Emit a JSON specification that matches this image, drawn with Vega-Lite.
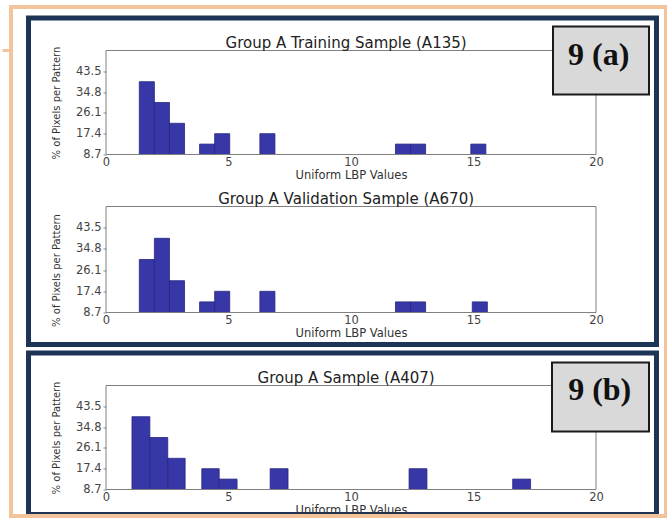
{
  "$schema": "https://vega.github.io/schema/vega-lite/v6.json",
  "background": "white",
  "padding": {"left": 0, "top": 4.5, "right": 0, "bottom": 0},
  "config": {
    "font": "DejaVu Sans",
    "view": {"stroke": null},
    "axis": {"labelFont": "DejaVu Sans", "titleFont": "DejaVu Sans", "labelColor": "#444444", "titleColor": "#333333", "titleFontWeight": "normal", "grid": false, "domain": false, "labelFlush": false, "labelOverlap": false},
    "axisX": {"ticks": false, "labelPadding": 2, "labelFontSize": 11.5, "titleFontSize": 11.5, "titlePadding": 1.5, "tickCount": 10},
    "axisY": {"ticks": true, "tickSize": 3, "tickColor": "#888888", "labelPadding": 2, "labelFontSize": 11.5, "titleFontSize": 10, "titlePadding": 14, "format": ".1f", "tickCount": 10}
  },
  "datasets": {
    "a135": [
      {"x0": 1.36, "x1": 1.975, "pct": 39.15},
      {"x0": 1.975, "x1": 2.59, "pct": 30.45},
      {"x0": 2.59, "x1": 3.205, "pct": 21.75},
      {"x0": 3.82, "x1": 4.435, "pct": 13.05},
      {"x0": 4.435, "x1": 5.05, "pct": 17.4},
      {"x0": 6.28, "x1": 6.895, "pct": 17.4},
      {"x0": 11.815, "x1": 12.43, "pct": 13.05},
      {"x0": 12.43, "x1": 13.045, "pct": 13.05},
      {"x0": 14.89, "x1": 15.505, "pct": 13.05}
    ],
    "a670": [
      {"x0": 1.36, "x1": 1.975, "pct": 30.45},
      {"x0": 1.975, "x1": 2.59, "pct": 39.15},
      {"x0": 2.59, "x1": 3.205, "pct": 21.75},
      {"x0": 3.82, "x1": 4.435, "pct": 13.05},
      {"x0": 4.435, "x1": 5.05, "pct": 17.4},
      {"x0": 6.28, "x1": 6.895, "pct": 17.4},
      {"x0": 11.815, "x1": 12.43, "pct": 13.05},
      {"x0": 12.43, "x1": 13.045, "pct": 13.05},
      {"x0": 14.95, "x1": 15.565, "pct": 13.05}
    ],
    "a407": [
      {"x0": 1.06, "x1": 1.79, "pct": 39.15},
      {"x0": 1.79, "x1": 2.52, "pct": 30.45},
      {"x0": 2.52, "x1": 3.23, "pct": 21.75},
      {"x0": 3.91, "x1": 4.62, "pct": 17.4},
      {"x0": 4.62, "x1": 5.35, "pct": 13.05},
      {"x0": 6.7, "x1": 7.43, "pct": 17.4},
      {"x0": 12.37, "x1": 13.1, "pct": 17.4},
      {"x0": 16.6, "x1": 17.33, "pct": 13.05}
    ]
  },
  "bounds": "flush",
  "spacing": 52,
  "vconcat": [
    {
      "width": 490,
      "height": 104,
      "layer": [
        {
          "data": {"name": "a135"},
          "mark": {"type": "rect", "color": "#3737A8", "stroke": "#26267F", "strokeWidth": 0.8},
          "encoding": {
            "x": {"field": "x0", "type": "quantitative", "scale": {"domain": [0, 20], "nice": false, "zero": false}, "axis": {"values": [0, 5, 10, 15, 20], "title": "Uniform LBP Values", "tickCount": 10}},
            "x2": {"field": "x1"},
            "y": {"field": "pct", "type": "quantitative", "scale": {"domain": [8.7, 52.2], "nice": false, "zero": false}, "axis": {"values": [8.7, 17.4, 26.1, 34.8, 43.5], "title": "% of Pixels per Pattern", "tickCount": 10}},
            "y2": {"datum": 8.7}
          }
        },
        {
          "data": {"values": [{}]},
          "mark": {"type": "rect", "filled": false, "stroke": "#1E3456", "strokeWidth": 5},
          "encoding": {
            "x": {"datum": -3.163, "type": "quantitative"},
            "x2": {"datum": 22.469},
            "y": {"datum": 65.79, "type": "quantitative"},
            "y2": {"datum": -70.77}
          }
        },
        {
          "data": {"values": [{}]},
          "mark": {"type": "rect", "filled": false, "stroke": "#1E3456", "strokeWidth": 5},
          "encoding": {
            "x": {"datum": -3.163, "type": "quantitative"},
            "x2": {"datum": 22.469},
            "y": {"datum": -74.33, "type": "quantitative"},
            "y2": {"datum": -141.88}
          }
        },
        {
          "data": {"values": [{}]},
          "mark": {"type": "rect", "filled": false, "stroke": "#F3C39B", "strokeWidth": 4},
          "encoding": {
            "x": {"datum": -3.878, "type": "quantitative"},
            "x2": {"datum": 22.857},
            "y": {"datum": 70.39, "type": "quantitative"},
            "y2": {"datum": -142.5}
          }
        },
        {
          "data": {"values": [{}]},
          "mark": {"type": "rule", "stroke": "#F3C39B", "strokeWidth": 3},
          "encoding": {
            "x": {"datum": -4.2245, "type": "quantitative"},
            "x2": {"datum": -3.878},
            "y": {"datum": 52.2, "type": "quantitative"}
          }
        },
        {
          "data": {"values": [{}]},
          "mark": {"type": "rect", "filled": false, "stroke": "#808080", "strokeWidth": 1},
          "encoding": {
            "x": {"datum": 0, "type": "quantitative"},
            "x2": {"datum": 20},
            "y": {"datum": 8.7, "type": "quantitative"},
            "y2": {"datum": 52.2}
          }
        },
        {
          "data": {"values": [{"t": "Group A Training Sample (A135)"}]},
          "mark": {"type": "text", "fontSize": 15, "color": "#222222", "align": "center", "baseline": "alphabetic", "dy": -2.5},
          "encoding": {
            "text": {"field": "t"},
            "x": {"datum": 9.8, "type": "quantitative"},
            "y": {"datum": 52.2, "type": "quantitative"}
          }
        },
        {
          "data": {"values": [{}]},
          "mark": {"type": "rect", "fill": "#D9D9D9", "stroke": "#1A1A1A", "strokeWidth": 2},
          "encoding": {
            "x": {"datum": 18.245, "type": "quantitative"},
            "x2": {"datum": 22.163},
            "y": {"datum": 62.24, "type": "quantitative"},
            "y2": {"datum": 33.8}
          }
        },
        {
          "data": {"values": [{"label": "9 (a)"}]},
          "mark": {"type": "text", "font": "Liberation Serif", "fontWeight": "bold", "fontSize": 32, "color": "#111111", "align": "center", "baseline": "alphabetic"},
          "encoding": {
            "text": {"field": "label"},
            "x": {"datum": 20.11, "type": "quantitative"},
            "y": {"datum": 45.93, "type": "quantitative"}
          }
        }
      ]
    },
    {
      "width": 490,
      "height": 127,
      "layer": [
        {
          "data": {"name": "a670"},
          "mark": {"type": "rect", "color": "#3737A8", "stroke": "#26267F", "strokeWidth": 0.8},
          "encoding": {
            "x": {"field": "x0", "type": "quantitative", "scale": {"domain": [0, 20], "nice": false, "zero": false}, "axis": {"values": [0, 5, 10, 15, 20], "title": "Uniform LBP Values", "offset": -21, "tickCount": 10}},
            "x2": {"field": "x1"},
            "y": {"field": "pct", "type": "quantitative", "scale": {"domain": [0.082, 52.2], "nice": false, "zero": false}, "axis": {"values": [8.7, 17.4, 26.1, 34.8, 43.5], "title": "% of Pixels per Pattern", "tickCount": 10}},
            "y2": {"datum": 8.7}
          }
        },
        {
          "data": {"values": [{}]},
          "mark": {"type": "rect", "filled": false, "stroke": "#808080", "strokeWidth": 1},
          "encoding": {
            "x": {"datum": 0, "type": "quantitative"},
            "x2": {"datum": 20},
            "y": {"datum": 8.7, "type": "quantitative"},
            "y2": {"datum": 52.2}
          }
        },
        {
          "data": {"values": [{"t": "Group A Validation Sample (A670)"}]},
          "mark": {"type": "text", "fontSize": 15, "color": "#222222", "align": "center", "baseline": "alphabetic", "dy": -2.5},
          "encoding": {
            "text": {"field": "t"},
            "x": {"datum": 9.8, "type": "quantitative"},
            "y": {"datum": 52.2, "type": "quantitative"}
          }
        }
      ]
    },
    {
      "width": 490,
      "height": 104,
      "layer": [
        {
          "data": {"name": "a407"},
          "mark": {"type": "rect", "color": "#3737A8", "stroke": "#26267F", "strokeWidth": 0.8},
          "encoding": {
            "x": {"field": "x0", "type": "quantitative", "scale": {"domain": [0, 20], "nice": false, "zero": false}, "axis": {"values": [0, 5, 10, 15, 20], "title": "Uniform LBP Values", "tickCount": 10}},
            "x2": {"field": "x1"},
            "y": {"field": "pct", "type": "quantitative", "scale": {"domain": [8.7, 52.2], "nice": false, "zero": false}, "axis": {"values": [8.7, 17.4, 26.1, 34.8, 43.5], "title": "% of Pixels per Pattern", "tickCount": 10}},
            "y2": {"datum": 8.7}
          }
        },
        {
          "data": {"values": [{}]},
          "mark": {"type": "rect", "filled": false, "stroke": "#808080", "strokeWidth": 1},
          "encoding": {
            "x": {"datum": 0, "type": "quantitative"},
            "x2": {"datum": 20},
            "y": {"datum": 8.7, "type": "quantitative"},
            "y2": {"datum": 52.2}
          }
        },
        {
          "data": {"values": [{"t": "Group A Sample (A407)"}]},
          "mark": {"type": "text", "fontSize": 15, "color": "#222222", "align": "center", "baseline": "alphabetic", "dy": -2.5},
          "encoding": {
            "text": {"field": "t"},
            "x": {"datum": 9.8, "type": "quantitative"},
            "y": {"datum": 52.2, "type": "quantitative"}
          }
        },
        {
          "data": {"values": [{}]},
          "mark": {"type": "rect", "fill": "#D9D9D9", "stroke": "#1A1A1A", "strokeWidth": 2},
          "encoding": {
            "x": {"datum": 18.204, "type": "quantitative"},
            "x2": {"datum": 22.163},
            "y": {"datum": 61.82, "type": "quantitative"},
            "y2": {"datum": 32.96}
          }
        },
        {
          "data": {"values": [{"label": "9 (b)"}]},
          "mark": {"type": "text", "font": "Liberation Serif", "fontWeight": "bold", "fontSize": 32, "color": "#111111", "align": "center", "baseline": "alphabetic"},
          "encoding": {
            "text": {"field": "label"},
            "x": {"datum": 20.15, "type": "quantitative"},
            "y": {"datum": 46.14, "type": "quantitative"}
          }
        }
      ]
    }
  ]
}
